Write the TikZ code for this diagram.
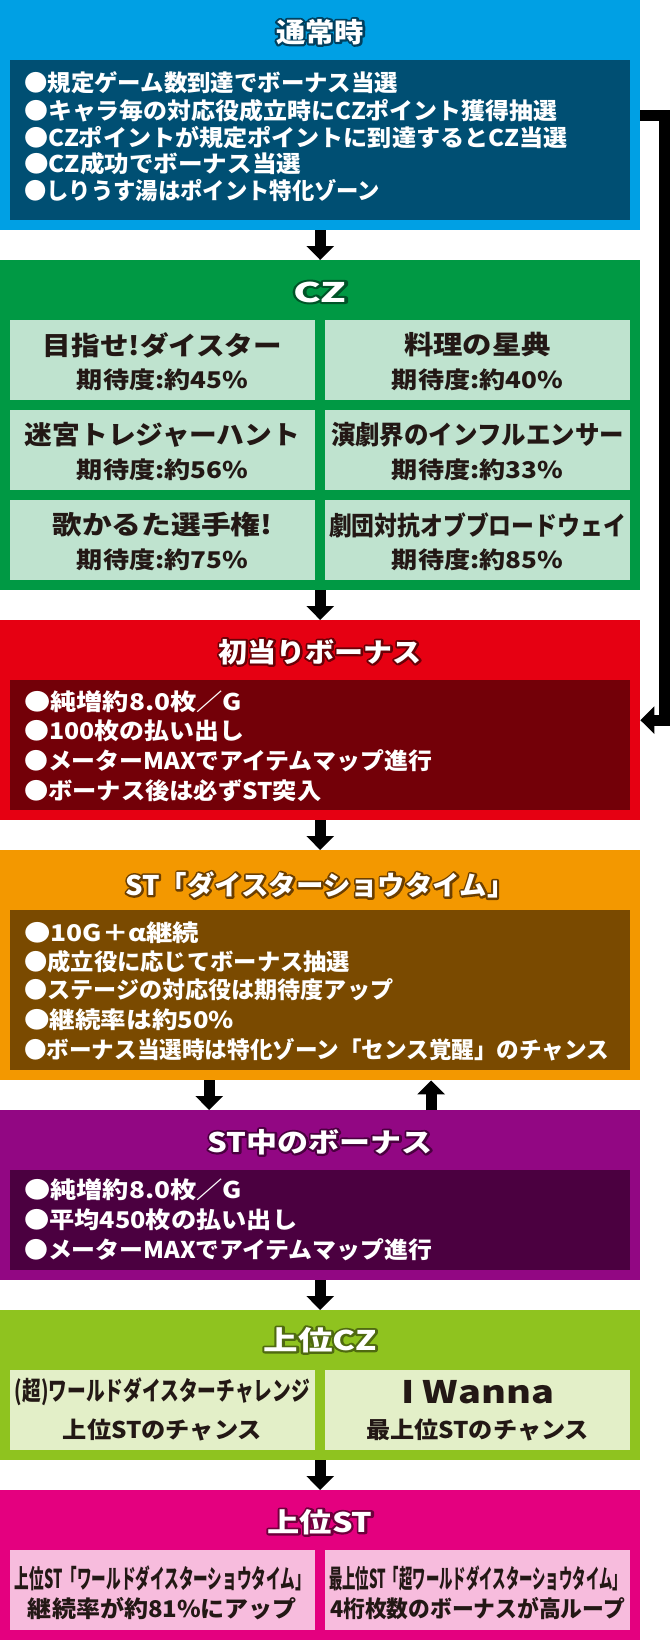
\documentclass[tikz,border=0pt]{standalone}
\usepackage{fontspec}
\setmainfont{Noto Sans CJK JP}[BoldFont={Noto Sans CJK JP Black}]
\usepackage{graphicx}
\usetikzlibrary{arrows.meta}

\definecolor{cblue}{HTML}{00A0E4}
\definecolor{cbluedk}{HTML}{004F73}
\definecolor{cblueln}{HTML}{00405F}
\definecolor{cgreen}{HTML}{009944}
\definecolor{cgreenlt}{HTML}{BFE3CF}
\definecolor{cgreenln}{HTML}{005428}
\definecolor{cred}{HTML}{E60012}
\definecolor{creddk}{HTML}{730008}
\definecolor{credln}{HTML}{6A0006}
\definecolor{corange}{HTML}{F39800}
\definecolor{corangedk}{HTML}{7A4A00}
\definecolor{corangeln}{HTML}{6B3E00}
\definecolor{cpurple}{HTML}{920783}
\definecolor{cpurpledk}{HTML}{4B0040}
\definecolor{cpurpleln}{HTML}{4A003F}
\definecolor{clime}{HTML}{8FC31F}
\definecolor{climelt}{HTML}{E3EFC8}
\definecolor{climeln}{HTML}{4F6A10}
\definecolor{cpink}{HTML}{E4007F}
\definecolor{cpinklt}{HTML}{F7BCDD}
\definecolor{cpinkln}{HTML}{6E003C}
\definecolor{cink}{HTML}{231815}

\newcommand{\fitw}[2]{\resizebox{#1}{\height}{#2}}
% stroked copy underneath, white text on top
\newcommand{\outl}[2]{\makebox[0pt][l]{\color{#1}\special{pdf:literal direct 1 Tr 4 w 1 j}#2\special{pdf:literal direct 0 Tr}}#2}

\tikzset{
  sect/.style={anchor=north west, inner sep=0, minimum width=640pt},
  panel/.style={anchor=north west, inner sep=0, minimum width=620pt},
  cell/.style={anchor=north west, inner sep=0, minimum width=305pt, minimum height=80pt},
  ttl/.style={inner sep=0, text=white, font=\bfseries\fontsize{27}{27}\selectfont},
  bul/.style={anchor=west, inner sep=0, text=white, font=\bfseries\fontsize{23}{23}\selectfont},
  big/.style={inner sep=0, text=cink, font=\bfseries\fontsize{26}{26}\selectfont},
  small/.style={inner sep=0, text=cink, font=\bfseries\fontsize{23}{23}\selectfont},
  arr/.style={line width=11pt, -{Triangle[width=27pt,length=14pt]}}
}

\begin{document}
\begin{tikzpicture}[x=1pt,y=-1pt]
\useasboundingbox (0,0) rectangle (670,1640);

% 通常時
\node[sect, fill=cblue, minimum height=230pt] (normal) at (0,0) {};
\node[ttl] (normalT) at (320,32) {\fitw{88pt}{\outl{cblueln}{通常時}}};
\node[panel, fill=cbluedk, minimum height=160pt] (normalP) at (10,60) {};
\node[bul] (n1) at (24,83) {\fitw{374pt}{●規定ゲーム数到達でボーナス当選}};
\node[bul] (n2) at (24,111) {\fitw{533pt}{●キャラ毎の対応役成立時にCZポイント獲得抽選}};
\node[bul] (n3) at (24,137.5) {\fitw{543pt}{●CZポイントが規定ポイントに到達するとCZ当選}};
\node[bul] (n4) at (24,164) {\fitw{277pt}{●CZ成功でボーナス当選}};
\node[bul] (n5) at (24,191) {\fitw{356pt}{●しりうす湯はポイント特化ゾーン}};

% CZ
\node[sect, fill=cgreen, minimum height=330pt] (cz) at (0,260) {};
\node[ttl] (czT) at (320,292) {\fitw{53pt}{\outl{cgreenln}{CZ}}};
\node[cell, fill=cgreenlt] (cz1) at (10,320) {};
\node[cell, fill=cgreenlt] (cz2) at (325,320) {};
\node[cell, fill=cgreenlt] (cz3) at (10,410) {};
\node[cell, fill=cgreenlt] (cz4) at (325,410) {};
\node[cell, fill=cgreenlt] (cz5) at (10,500) {};
\node[cell, fill=cgreenlt] (cz6) at (325,500) {};
\node[big] at (162.5,345) {\fitw{239pt}{目指せ!ダイスター}};
\node[small] at (162.5,380) {\fitw{171pt}{期待度:約45\%}};
\node[big] at (477.5,345) {\fitw{147pt}{料理の星典}};
\node[small] at (477.5,380) {\fitw{171pt}{期待度:約40\%}};
\node[big] at (162.5,435) {\fitw{275pt}{迷宮トレジャーハント}};
\node[small] at (162.5,470) {\fitw{171pt}{期待度:約56\%}};
\node[big] at (477.5,435) {\fitw{293pt}{演劇界のインフルエンサー}};
\node[small] at (477.5,470) {\fitw{171pt}{期待度:約33\%}};
\node[big] at (162.5,525) {\fitw{220pt}{歌かるた選手権!}};
\node[small] at (162.5,560) {\fitw{171pt}{期待度:約75\%}};
\node[big] at (477.5,525) {\fitw{297pt}{劇団対抗オブブロードウェイ}};
\node[small] at (477.5,560) {\fitw{171pt}{期待度:約85\%}};

% 初当りボーナス
\node[sect, fill=cred, minimum height=200pt] (first) at (0,620) {};
\node[ttl] (firstT) at (320,652) {\fitw{203pt}{\outl{credln}{初当りボーナス}}};
\node[panel, fill=creddk, minimum height=130pt] (firstP) at (10,680) {};
\node[bul] (f1) at (24,702) {\fitw{218pt}{●純増約8.0枚／G}};
\node[bul] (f2) at (24,731) {\fitw{220pt}{●100枚の払い出し}};
\node[bul] (f3) at (24,761) {\fitw{408pt}{●メーターMAXでアイテムマップ進行}};
\node[bul] (f4) at (24,791) {\fitw{297pt}{●ボーナス後は必ずST突入}};

% ST
\node[sect, fill=corange, minimum height=230pt] (st) at (0,850) {};
\node[ttl] (stT) at (320,885) {\fitw{389pt}{\outl{corangeln}{ST「ダイスターショウタイム」}}};
\node[panel, fill=corangedk, minimum height=160pt] (stP) at (10,910) {};
\node[bul] (s1) at (24,932.5) {\fitw{175pt}{●10G＋α継続}};
\node[bul] (s2) at (24,961.5) {\fitw{326pt}{●成立役に応じてボーナス抽選}};
\node[bul] (s3) at (24,990) {\fitw{369pt}{●ステージの対応役は期待度アップ}};
\node[bul] (s4) at (24,1020) {\fitw{210pt}{●継続率は約50\%}};
\node[bul] (s5) at (24,1050) {\fitw{585pt}{●ボーナス当選時は特化ゾーン「センス覚醒」のチャンス}};

% ST中のボーナス
\node[sect, fill=cpurple, minimum height=170pt] (stb) at (0,1110) {};
\node[ttl] (stbT) at (320,1142) {\fitw{225pt}{\outl{cpurpleln}{ST中のボーナス}}};
\node[panel, fill=cpurpledk, minimum height=100pt] (stbP) at (10,1170) {};
\node[bul] (b1) at (24,1190) {\fitw{218pt}{●純増約8.0枚／G}};
\node[bul] (b2) at (24,1220) {\fitw{273pt}{●平均450枚の払い出し}};
\node[bul] (b3) at (24,1250) {\fitw{408pt}{●メーターMAXでアイテムマップ進行}};

% 上位CZ
\node[sect, fill=clime, minimum height=150pt] (upcz) at (0,1310) {};
\node[ttl] (upczT) at (320,1340) {\fitw{113pt}{\outl{climeln}{上位CZ}}};
\node[cell, fill=climelt] (uc1) at (10,1370) {};
\node[cell, fill=climelt] (uc2) at (325,1370) {};
\node[big] at (162.5,1392) {\fitw{295pt}{(超)ワールドダイスターチャレンジ}};
\node[small] at (162.5,1430) {\fitw{199pt}{上位STのチャンス}};
\node[big, font=\bfseries\fontsize{31}{31}\selectfont] at (477.5,1392) {\fitw{153pt}{I Wanna}};
\node[small] at (477.5,1430) {\fitw{223pt}{最上位STのチャンス}};

% 上位ST
\node[sect, fill=cpink, minimum height=150pt] (upst) at (0,1490) {};
\node[ttl] (upstT) at (320,1522) {\fitw{105pt}{\outl{cpinkln}{上位ST}}};
\node[cell, fill=cpinklt] (us1) at (10,1550) {};
\node[cell, fill=cpinklt] (us2) at (325,1550) {};
\node[big] at (162.5,1578) {\fitw{295pt}{上位ST「ワールドダイスターショウタイム」}};
\node[small] at (162.5,1609) {\fitw{269pt}{継続率が約81\%にアップ}};
\node[big] at (477.5,1578) {\fitw{297pt}{最上位ST「超ワールドダイスターショウタイム」}};
\node[small] at (477.5,1609) {\fitw{295pt}{4桁枚数のボーナスが高ループ}};

% arrows
\draw[arr] (normal.south) -- (cz.north);
\draw[arr] (cz.south) -- (first.north);
\draw[arr] (first.south) -- (st.north);
\draw[arr] ([xshift=-111pt]st.south) -- ([xshift=-111pt]stb.north);
\draw[arr] ([xshift=111pt]stb.north) -- ([xshift=111pt]st.south);
\draw[arr] (stb.south) -- (upcz.north);
\draw[arr] (upcz.south) -- (upst.north);
\draw[arr] (normal.east) -- ++(24,0) |- (first.east);
\end{tikzpicture}
\end{document}
